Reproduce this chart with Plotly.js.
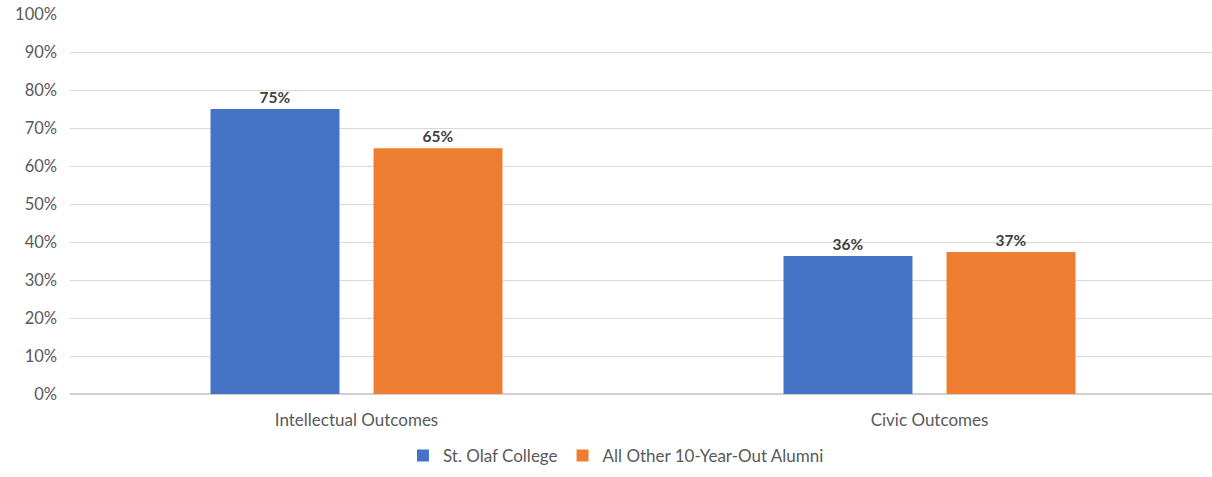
<!DOCTYPE html>
<html>
<head>
<meta charset="utf-8">
<script src="https://cdn.plot.ly/plotly-3.0.1.min.js"></script>
<style>html,body{margin:0;padding:0;background:#fff;overflow:hidden}</style>
</head>
<body>
<div id="chart" style="width:1216px;height:477px"></div>
<script>
var categories = ["Intellectual Outcomes", "Civic Outcomes"];
var seriesNames = ["St. Olaf College", "All Other 10-Year-Out Alumni"];
var stOlaf = [75.0, 36.3];
var allOther = [64.7, 37.4];
var yTickVals = [0, 10, 20, 30, 40, 50, 60, 70, 80, 90, 100];
var yTickText = ["0%", "10%", "20%", "30%", "40%", "50%", "60%", "70%", "80%", "90%", "100%"];

var font = "Lato, 'Open Sans', sans-serif";
var labelFont = {family: font, size: 15.5, color: "#404040", weight: "bold"};

var traces = [
  {type: "bar", name: seriesNames[0], x: categories, y: stOlaf,
   marker: {color: "#4472C4"}, texttemplate: "<b>%{y:.0f}%</b>",
   textposition: "outside", textfont: labelFont, cliponaxis: false, hoverinfo: "skip"},
  {type: "bar", name: seriesNames[1], x: categories, y: allOther,
   marker: {color: "#ED7D31"}, texttemplate: "<b>%{y:.0f}%</b>",
   textposition: "outside", textfont: labelFont, cliponaxis: false, hoverinfo: "skip"}
];

var layout = {
  width: 1216, height: 477,
  margin: {l: 70, r: 0, t: 14, b: 83, autoexpand: false},
  paper_bgcolor: "#fff", plot_bgcolor: "#fff",
  barmode: "group", bargap: 0.431, bargroupgap: 0.209,
  showlegend: true,
  legend: {orientation: "h", x: 0.4764, xanchor: "center", y: -0.163, yanchor: "middle",
           font: {family: font, size: 17, color: "#595959"}, traceorder: "normal"},
  xaxis: {type: "category", showgrid: false, showline: false, zeroline: false,
          ticks: "", ticklabelstandoff: 14,
          tickfont: {family: font, size: 17, color: "#595959"}, fixedrange: true},
  yaxis: {range: [0, 100], tickvals: yTickVals, ticktext: yTickText,
          showgrid: true, gridcolor: "#d9d9d9", gridwidth: 1,
          zeroline: true, zerolinecolor: "#d0d0d0", zerolinewidth: 2,
          showline: false, ticks: "", ticklabelstandoff: 12,
          tickfont: {family: font, size: 16.5, color: "#595959"}, fixedrange: true}
};

Plotly.newPlot("chart", traces, layout, {displayModeBar: false, staticPlot: true});
</script>
</body>
</html>
